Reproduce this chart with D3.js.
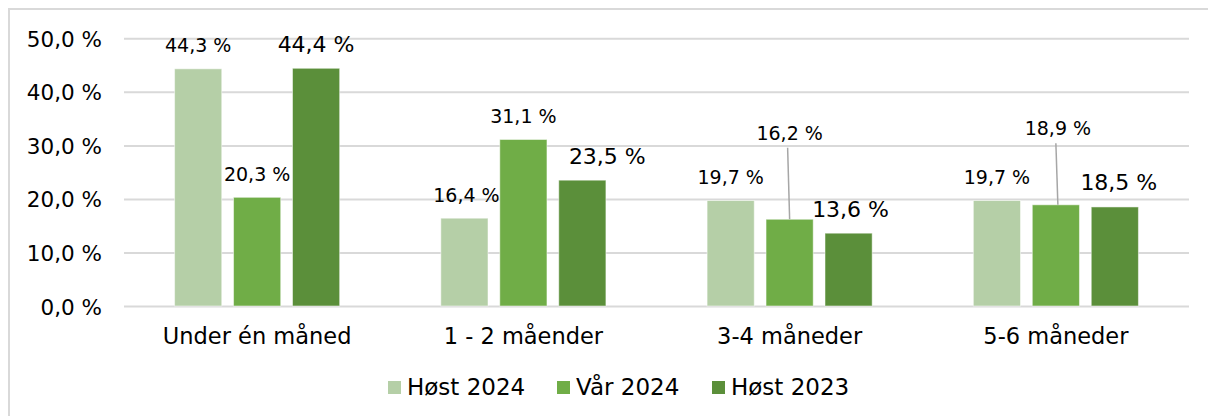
<!DOCTYPE html>
<html>
<head>
<meta charset="utf-8">
<script src="https://cdn.jsdelivr.net/npm/d3@7"></script>
<style>
  body { margin:0; background:#fff; }
  svg text { font-family:"DejaVu Sans", Verdana, sans-serif; fill:#000; }
</style>
</head>
<body>
<svg id="chart"></svg>
<script>
var categories = ["Under én måned", "1 - 2 måender", "3-4 måneder", "5-6 måneder"]
var seriesNames = ["Høst 2024", "Vår 2024", "Høst 2023"]
var host2024 = [44.3, 16.4, 19.7, 19.7]
var var2024 = [20.3, 31.1, 16.2, 18.9]
var host2023 = [44.4, 23.5, 13.6, 18.5]
var yTicks = [0, 10, 20, 30, 40, 50]

var colors = ["#b5cfa7", "#70ad47", "#5b8f3a"]
// label nudges (Excel moved some labels by hand) : [series][category] = [dx, dy]
var labelMoves = [
  [[0,0],[2,0],[0,0],[0,0]],
  [[0,0],[0,0],[0,-63],[2,-53]],
  [[0,0],[25,0],[2,0],[4,0]]
]
var labelSizes = [19, 19, 22]

var values = [host2024, var2024, host2023]
var rows = []
values.forEach(function(vals, s){
  vals.forEach(function(v, c){
    rows.push({s:s, c:c, v:v})
  })
})

var W = 1208, H = 416
var svg = d3.select("#chart").attr("width", W).attr("height", H)

// outer frame
svg.append("rect")
   .attr("x", 9).attr("y", 9)
   .attr("width", 1300).attr("height", 408)
   .attr("fill", "none")
   .attr("stroke", "#d9d9d9")
   .attr("stroke-width", 2)

var x = d3.scaleBand()
    .domain(categories)
    .range([124, 1189])
    .paddingInner(0.38)
    .paddingOuter(0.19)
var xs = d3.scaleBand()
    .domain(d3.range(seriesNames.length))
    .range([0, x.bandwidth()])
    .paddingInner(0.2)
var y = d3.scaleLinear()
    .domain([0, 50])
    .range([306, 38.3])

// gridlines + tick labels
var yAxis = d3.axisLeft(y)
    .tickValues(yTicks)
    .tickSize(-(1189 - 124))
    .tickFormat(function(d){ return d3.format(".1f")(d).replace(".", ",") + " %" })
var gy = svg.append("g")
    .attr("transform", "translate(124,0)")
    .call(yAxis)
gy.select(".domain").remove()
gy.selectAll(".tick line").attr("stroke", "#d9d9d9").attr("stroke-width", 2)
gy.selectAll(".tick text")
    .attr("x", -22)
    .attr("dy", 8)
    .attr("dominant-baseline", "auto")
    .style("font-size", "21.5px")
    .style("font-family", "DejaVu Sans")
    .attr("fill", "#000")

// bars
svg.append("g").selectAll("rect")
   .data(rows)
   .enter()
   .append("rect")
   .attr("x", d => x(categories[d.c]) + xs(d.s))
   .attr("y", d => y(d.v))
   .attr("width", xs.bandwidth())
   .attr("height", d => y(0) - y(d.v))
   .attr("fill", d => colors[d.s])
   .attr("stroke", "#ffffff")
   .attr("stroke-opacity", 0.5)
   .attr("stroke-width", 1)

// leader lines for moved labels
svg.append("g").selectAll("line")
   .data(rows.filter(d => labelMoves[d.s][d.c][1] < -20))
   .enter()
   .append("line")
   .attr("x1", d => x(categories[d.c]) + xs(d.s) + xs.bandwidth()/2 + labelMoves[d.s][d.c][0] - 2)
   .attr("y1", d => y(d.v) - 16.5 + labelMoves[d.s][d.c][1] + 8)
   .attr("x2", d => x(categories[d.c]) + xs(d.s) + xs.bandwidth()/2 + labelMoves[d.s][d.c][0])
   .attr("y2", d => y(d.v))
   .attr("stroke", "#a6a6a6")
   .attr("stroke-width", 1.5)

// value labels
svg.append("g").selectAll("text")
   .data(rows)
   .enter()
   .append("text")
   .attr("x", d => x(categories[d.c]) + xs(d.s) + xs.bandwidth()/2 + labelMoves[d.s][d.c][0])
   .attr("y", d => y(d.v) - 16.5 + labelMoves[d.s][d.c][1])
   .attr("text-anchor", "middle")
   .style("font-size", d => labelSizes[d.s] + "px")
   .text(d => d3.format(".1f")(d.v).replace(".", ",") + " %")

// category labels
svg.append("g").selectAll("text")
   .data(categories)
   .enter()
   .append("text")
   .attr("x", d => x(d) + x.bandwidth()/2)
   .attr("y", 344)
   .attr("text-anchor", "middle")
   .style("font-size", "22.5px")
   .text(d => d)

// legend
var legX = [388, 557, 712]
var leg = svg.append("g").selectAll("g")
   .data(seriesNames)
   .enter()
   .append("g")
   .attr("transform", (d,i) => "translate(" + legX[i] + ",0)")
leg.append("rect")
   .attr("x", 0).attr("y", 381)
   .attr("width", 13).attr("height", 13)
   .attr("fill", (d,i) => colors[i])
leg.append("text")
   .attr("x", 19).attr("y", 395)
   .style("font-size", "23px")
   .text(d => d)
</script>
</body>
</html>
